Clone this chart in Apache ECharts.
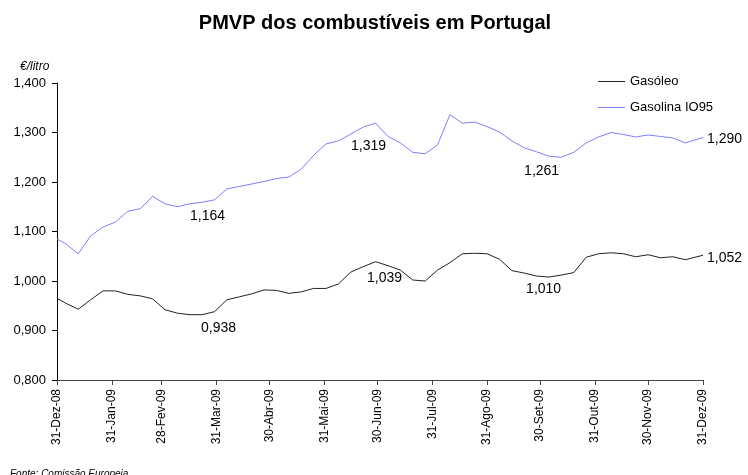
<!DOCTYPE html>
<html>
<head>
<meta charset="utf-8">
<script src="https://cdn.jsdelivr.net/npm/echarts@6/dist/echarts.min.js"></script>
<style>html,body{margin:0;padding:0;background:#fff}#c{width:748px;height:475px}</style>
</head>
<body>
<div id="c"></div>
<script>
const dates = ['2008-12-31','2009-01-05','2009-01-12','2009-01-19','2009-01-26','2009-02-02','2009-02-09','2009-02-16','2009-02-23','2009-03-02','2009-03-09','2009-03-16','2009-03-23','2009-03-30','2009-04-06','2009-04-13','2009-04-20','2009-04-27','2009-05-04','2009-05-11','2009-05-18','2009-05-25','2009-06-01','2009-06-08','2009-06-15','2009-06-22','2009-06-29','2009-07-06','2009-07-13','2009-07-20','2009-07-27','2009-08-03','2009-08-10','2009-08-17','2009-08-24','2009-08-31','2009-09-07','2009-09-14','2009-09-21','2009-09-28','2009-10-05','2009-10-12','2009-10-19','2009-10-26','2009-11-02','2009-11-09','2009-11-16','2009-11-23','2009-11-30','2009-12-07','2009-12-14','2009-12-21','2009-12-31'];
const gasoleo = [0.965,0.955,0.943,0.962,0.980,0.980,0.973,0.970,0.964,0.942,0.935,0.932,0.932,0.938,0.962,0.968,0.974,0.982,0.981,0.975,0.978,0.985,0.985,0.994,1.018,1.029,1.039,1.031,1.022,1.002,1.000,1.022,1.037,1.055,1.056,1.055,1.044,1.021,1.016,1.010,1.008,1.012,1.017,1.048,1.055,1.057,1.055,1.049,1.053,1.047,1.049,1.043,1.052];
const gasolina = [1.085,1.075,1.055,1.091,1.109,1.119,1.141,1.146,1.171,1.156,1.150,1.156,1.159,1.164,1.186,1.191,1.196,1.201,1.207,1.210,1.226,1.254,1.277,1.283,1.297,1.311,1.319,1.292,1.279,1.260,1.257,1.275,1.336,1.319,1.321,1.312,1.301,1.283,1.269,1.261,1.252,1.250,1.260,1.279,1.291,1.300,1.296,1.291,1.295,1.292,1.289,1.279,1.290];
const labelIdx = [13,26,39,52];
const tickDates = ['2008-12-31','2009-01-31','2009-02-28','2009-03-31','2009-04-30','2009-05-31','2009-06-30','2009-07-31','2009-08-31','2009-09-30','2009-10-31','2009-11-30','2009-12-31'];
const tickLabels = ['31-Dez-08','31-Jan-09','28-Fev-09','31-Mar-09','30-Abr-09','31-Mai-09','30-Jun-09','31-Jul-09','31-Ago-09','30-Set-09','31-Out-09','30-Nov-09','31-Dez-09'];

const DAY = 86400000;
const t0 = Date.UTC(2008,11,31);
const toDay = s => { const p = s.split('-').map(Number); return Math.round((Date.UTC(p[0],p[1]-1,p[2]) - t0)/DAY); };
const tickDays = tickDates.map(toDay);
const fmt = v => v.toFixed(3).replace('.', ',');
const FONT = 'Liberation Sans, Arial, sans-serif';
const C_GASOLEO = '#222';
const C_GASOLINA = '#7f7fff';

const gasolinaOffsets = [[-7,0],[-7,7],[5,3],[0,2]];
const gasoleoOffsets = [[4,0],[9,0],[7,-3],[0,3]];

const line = vals => vals.map((v,i) => [toDay(dates[i]), v]);
function marks(vals, offsets){
  return labelIdx.map((i,k) => {
    const last = (i === vals.length-1);
    return {
      coord: [toDay(dates[i]), vals[i]],
      value: vals[i],
      label: {
        show: true,
        position: last ? 'right' : 'bottom',
        distance: last ? 4 : 9,
        offset: offsets[k],
        formatter: () => fmt(vals[i]),
        fontSize: 14, color: '#000', fontFamily: FONT
      }
    };
  });
}

const chart = echarts.init(document.getElementById('c'), null, {renderer:'canvas'});
chart.setOption({
  animation: false,
  backgroundColor: '#fff',
  textStyle: { fontFamily: FONT },
  title: [
    { text: 'PMVP dos combustíveis em Portugal', left: 370, textAlign: 'center', top: 8,
      textStyle: { fontSize: 20, fontWeight: 'bold', color: '#000', fontFamily: FONT } },
    { text: '€/litro', left: 15, top: 56,
      textStyle: { fontSize: 12, fontStyle: 'italic', fontWeight: 'normal', color: '#000', fontFamily: FONT } },
    { text: 'Fonte: Comissão Europeia.', left: 5, top: 464,
      textStyle: { fontSize: 10, fontStyle: 'italic', fontWeight: 'normal', color: '#000', fontFamily: FONT } }
  ],
  legend: {
    orient: 'vertical', left: 593, top: 70, itemWidth: 27, itemHeight: 1, itemGap: 13,
    textStyle: { fontSize: 13, color: '#000' },
    data: [
      { name: 'Gasóleo', icon: 'rect', itemStyle: { color: C_GASOLEO } },
      { name: 'Gasolina IO95', icon: 'rect', itemStyle: { color: C_GASOLINA } }
    ]
  },
  grid: { left: 57, right: 45, top: 83, bottom: 95, containLabel: false },
  xAxis: {
    type: 'value', min: 0, max: 365,
    splitLine: { show: false },
    axisLine: { lineStyle: { color: '#444', width: 1 } },
    axisTick: { show: true, customValues: tickDays, length: 5, lineStyle: { color: '#444' } },
    axisLabel: {
      customValues: tickDays, rotate: 90, margin: 9, fontSize: 12, color: '#000',
      formatter: v => tickLabels[tickDays.indexOf(v)] || ''
    }
  },
  yAxis: {
    type: 'value', min: 0.8, max: 1.4, interval: 0.1,
    splitLine: { show: false },
    axisLine: { show: true, lineStyle: { color: '#000', width: 1 } },
    axisTick: { show: true, length: 5, lineStyle: { color: '#000' } },
    axisLabel: { fontSize: 13, color: '#000', margin: 11, formatter: v => fmt(v) }
  },
  series: [
    { name: 'Gasóleo', type: 'line', symbol: 'none', data: line(gasoleo),
      lineStyle: { color: C_GASOLEO, width: 1 }, itemStyle: { color: C_GASOLEO },
      markPoint: { symbol: 'circle', symbolSize: 0, silent: true, data: marks(gasoleo, gasoleoOffsets) } },
    { name: 'Gasolina IO95', type: 'line', symbol: 'none', data: line(gasolina),
      lineStyle: { color: C_GASOLINA, width: 1 }, itemStyle: { color: C_GASOLINA },
      markPoint: { symbol: 'circle', symbolSize: 0, silent: true, data: marks(gasolina, gasolinaOffsets) } }
  ]
});
</script>
</body>
</html>
